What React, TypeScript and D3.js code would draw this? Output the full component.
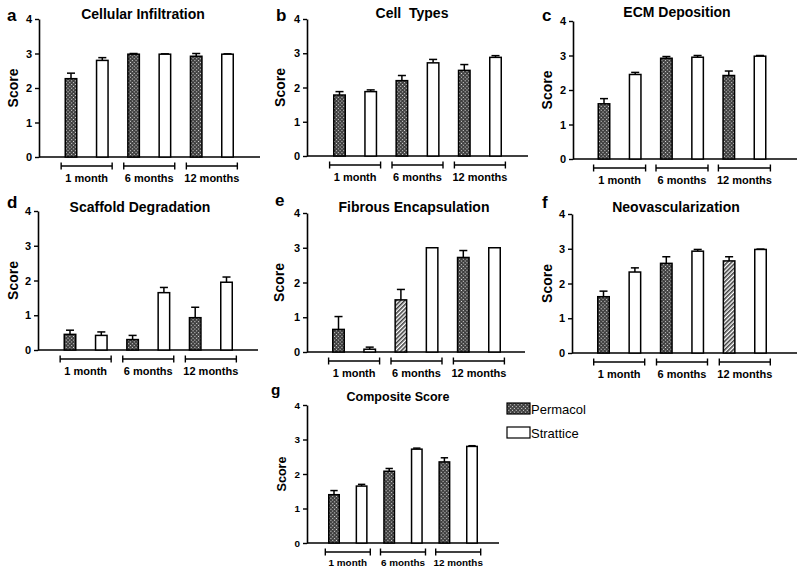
import React, { useRef, useEffect } from "react";
import * as d3 from "d3";

// time points and series
const groups = ["1 month", "6 months", "12 months"];
const seriesNames = ["Permacol", "Strattice"];
const yTicks = [0, 1, 2, 3, 4];

const panelLetters = ["a", "b", "c", "d", "e", "f", "g"];
const panelTitles = [
  "Cellular Infiltration",
  "Cell  Types",
  "ECM Deposition",
  "Scaffold Degradation",
  "Fibrous Encapsulation",
  "Neovascularization",
  "Composite Score",
];

// means and SEM, one row per panel
const permacolMeans = [
  [2.27, 2.98, 2.92],
  [1.78, 2.2, 2.5],
  [1.6, 2.92, 2.42],
  [0.45, 0.3, 0.93],
  [0.65, 1.5, 2.72],
  [1.62, 2.58, 2.65],
  [1.4, 2.08, 2.35],
];
const permacolErrs = [
  [0.16, 0.02, 0.08],
  [0.1, 0.15, 0.17],
  [0.15, 0.05, 0.13],
  [0.12, 0.12, 0.3],
  [0.37, 0.3, 0.2],
  [0.16, 0.19, 0.12],
  [0.12, 0.08, 0.12],
];
const stratticeMeans = [
  [2.8, 2.98, 2.98],
  [1.88, 2.72, 2.88],
  [2.45, 2.95, 2.98],
  [0.42, 1.65, 1.95],
  [0.08, 3.0, 3.0],
  [2.33, 2.93, 2.98],
  [1.65, 2.72, 2.8],
];
const stratticeErrs = [
  [0.08, 0.01, 0.01],
  [0.05, 0.1, 0.05],
  [0.06, 0.05, 0.02],
  [0.1, 0.15, 0.15],
  [0.06, 0.0, 0.0],
  [0.12, 0.05, 0.01],
  [0.05, 0.03, 0.02],
];
// fill used for each Permacol bar (two bars use a diagonal hatch)
const permacolFills = [
  ["cross", "cross", "cross"],
  ["cross", "cross", "cross"],
  ["cross", "cross", "cross"],
  ["cross", "cross", "cross"],
  ["cross", "diag", "cross"],
  ["cross", "cross", "diag"],
  ["cross", "cross", "cross"],
];

type Layout = {
  x0: number; xEnd: number; top: number; bottom: number;
  c1: number; c6: number; barW: number; half: number; small?: boolean;
  titleX: number; titleY: number; letterX: number; letterY: number; scoreX: number;
};

const layouts: Layout[] = [
  { x0: 39, xEnd: 260, top: 19, bottom: 157, c1: 71, c6: 227.5, barW: 11.5, half: 25.5, titleX: 143, titleY: 19, letterX: 7, letterY: 21, scoreX: 13 },
  { x0: 307, xEnd: 528, top: 19, bottom: 156, c1: 339.5, c6: 495.5, barW: 11.5, half: 25.5, titleX: 412, titleY: 18, letterX: 276, letterY: 21, scoreX: 280 },
  { x0: 573, xEnd: 797, top: 21, bottom: 159, c1: 604, c6: 760, barW: 11.5, half: 26, titleX: 677, titleY: 17, letterX: 542, letterY: 21, scoreX: 547 },
  { x0: 38, xEnd: 258, top: 211, bottom: 350, c1: 70, c6: 226.5, barW: 11.5, half: 25.5, titleX: 140, titleY: 212, letterX: 7, letterY: 208, scoreX: 13 },
  { x0: 307, xEnd: 525, top: 213, bottom: 352, c1: 338.5, c6: 494.5, barW: 11.5, half: 25.5, titleX: 414, titleY: 212, letterX: 275, letterY: 206, scoreX: 279 },
  { x0: 572, xEnd: 797, top: 214, bottom: 353, c1: 603.5, c6: 760.5, barW: 11.5, half: 25.5, titleX: 676, titleY: 212, letterX: 542, letterY: 208, scoreX: 547 },
  { x0: 307, xEnd: 499, top: 405, bottom: 543, c1: 334, c6: 472, barW: 10.5, half: 22.5, small: true, titleX: 398, titleY: 401, letterX: 271, letterY: 395, scoreX: 281 },
];

const FONT = "'Liberation Sans', Arial, Helvetica, sans-serif";

const App: React.FC = () => {
  const ref = useRef<SVGSVGElement | null>(null);

  useEffect(() => {
    const svg = d3.select(ref.current);
    svg.selectAll("*").remove();
    svg.attr("viewBox", "0 0 800 575").style("font-family", FONT);

    svg.append("rect").attr("width", 800).attr("height", 575).attr("fill", "#fff");

    // hatch patterns
    const defs = svg.append("defs");
    const cross = defs
      .append("pattern")
      .attr("id", "cross")
      .attr("patternUnits", "userSpaceOnUse")
      .attr("width", 2.6)
      .attr("height", 2.6)
      .attr("patternTransform", "rotate(45)");
    cross.append("rect").attr("width", 2.6).attr("height", 2.6).attr("fill", "#3a3a3a");
    cross.append("rect").attr("x", 0.7).attr("y", 0.7).attr("width", 1.1).attr("height", 1.1).attr("fill", "#e8e8e8");

    const diag = defs
      .append("pattern")
      .attr("id", "diag")
      .attr("patternUnits", "userSpaceOnUse")
      .attr("width", 3)
      .attr("height", 3)
      .attr("patternTransform", "rotate(45)");
    diag.append("rect").attr("width", 3).attr("height", 3).attr("fill", "#fff");
    diag.append("line").attr("x1", 0.8).attr("x2", 0.8).attr("y1", 0).attr("y2", 3).attr("stroke", "#333").attr("stroke-width", 1.5);

    layouts.forEach((L, p) => {
      const g = svg.append("g");
      const fs = L.small ? 0.9 : 1;

      const y = d3.scaleLinear().domain([0, 4]).range([L.bottom, L.top]);
      const keys = groups.flatMap((gr) => seriesNames.map((s) => `${gr}|${s}`));
      const x = d3.scalePoint<string>().domain(keys).range([L.c1, L.c6]);

      // axes
      g.append("g")
        .attr("transform", `translate(${L.x0},0)`)
        .call(d3.axisLeft(y).tickValues(yTicks).tickSize(4).tickSizeOuter(0).tickFormat(d3.format("d")))
        .call((a) => a.select(".domain").attr("stroke-width", 1.6))
        .call((a) => a.selectAll(".tick line").attr("stroke-width", 1.4))
        .call((a) =>
          a.selectAll(".tick text")
            .attr("x", -7)
            .style("font-size", `${11 * fs}px`)
            .style("font-weight", "bold")
            .style("font-family", FONT)
        );
      g.append("line")
        .attr("x1", L.x0)
        .attr("x2", L.xEnd)
        .attr("y1", L.bottom)
        .attr("y2", L.bottom)
        .attr("stroke", "#000")
        .attr("stroke-width", 1.6);

      // bars
      const bars = groups.flatMap((gr, i) => [
        { key: `${gr}|Permacol`, v: permacolMeans[p][i], e: permacolErrs[p][i], fill: `url(#${permacolFills[p][i]})` },
        { key: `${gr}|Strattice`, v: stratticeMeans[p][i], e: stratticeErrs[p][i], fill: "#fff" },
      ]);

      // error bars (upper only)
      g.selectAll(".err")
        .data(bars)
        .join("line")
        .attr("x1", (d) => x(d.key)!)
        .attr("x2", (d) => x(d.key)!)
        .attr("y1", (d) => y(d.v))
        .attr("y2", (d) => y(d.v + d.e))
        .attr("stroke", "#000")
        .attr("stroke-width", 1.5);
      g.selectAll(".cap")
        .data(bars)
        .join("line")
        .attr("x1", (d) => x(d.key)! - L.barW * 0.35)
        .attr("x2", (d) => x(d.key)! + L.barW * 0.35)
        .attr("y1", (d) => y(d.v + d.e))
        .attr("y2", (d) => y(d.v + d.e))
        .attr("stroke", "#000")
        .attr("stroke-width", 1.5);

      g.selectAll(".bar")
        .data(bars)
        .join("rect")
        .attr("x", (d) => x(d.key)! - L.barW / 2)
        .attr("width", L.barW)
        .attr("y", (d) => y(d.v))
        .attr("height", (d) => y(0) - y(d.v))
        .attr("fill", (d) => d.fill)
        .attr("stroke", "#000")
        .attr("stroke-width", 1.5);

      // group brackets
      const by = L.bottom + 9;
      groups.forEach((gr) => {
        const cx = (x(`${gr}|Permacol`)! + x(`${gr}|Strattice`)!) / 2;
        const b = g.append("g").attr("stroke", "#000").attr("stroke-width", 1.4);
        b.append("line").attr("x1", cx - L.half).attr("x2", cx + L.half).attr("y1", by).attr("y2", by);
        b.append("line").attr("x1", cx - L.half).attr("x2", cx - L.half).attr("y1", by - 3.5).attr("y2", by + 3.5);
        b.append("line").attr("x1", cx + L.half).attr("x2", cx + L.half).attr("y1", by - 3.5).attr("y2", by + 3.5);
        g.append("text")
          .attr("x", cx)
          .attr("y", L.bottom + (L.small ? 23 : 25))
          .attr("text-anchor", "middle")
          .style("font-size", `${11 * fs}px`)
          .style("font-weight", "bold")
          .text(gr);
      });

      // title, letter, y label
      g.append("text")
        .attr("x", L.titleX)
        .attr("y", L.titleY)
        .attr("text-anchor", "middle")
        .style("font-size", `${L.small ? 12.5 : 14}px`)
        .style("font-weight", "bold")
        .style("white-space", "pre")
        .text(panelTitles[p]);
      g.append("text")
        .attr("x", L.letterX)
        .attr("y", L.letterY)
        .style("font-size", `${17 * fs}px`)
        .style("font-weight", "bold")
        .text(panelLetters[p]);
      g.append("text")
        .attr("transform", `translate(${L.scoreX + 5},${(L.top + L.bottom) / 2}) rotate(-90)`)
        .attr("text-anchor", "middle")
        .style("font-size", `${14 * fs}px`)
        .style("font-weight", "bold")
        .text("Score");
    });

    // legend
    const legend = svg.append("g").attr("transform", "translate(507,403)");
    seriesNames.forEach((s, i) => {
      legend
        .append("rect")
        .attr("x", 0)
        .attr("y", i * 24)
        .attr("width", 23)
        .attr("height", 11)
        .attr("fill", i === 0 ? "url(#cross)" : "#fff")
        .attr("stroke", "#000")
        .attr("stroke-width", 1.2);
      legend
        .append("text")
        .attr("x", 24)
        .attr("y", i * 24 + 10.5)
        .style("font-size", "13px")
        .text(s);
    });
  }, []);

  return (
    <svg
      ref={ref}
      width={800}
      height={575}
      style={{ position: "absolute", left: 0, top: 0, display: "block" }}
    />
  );
};

export default App;
